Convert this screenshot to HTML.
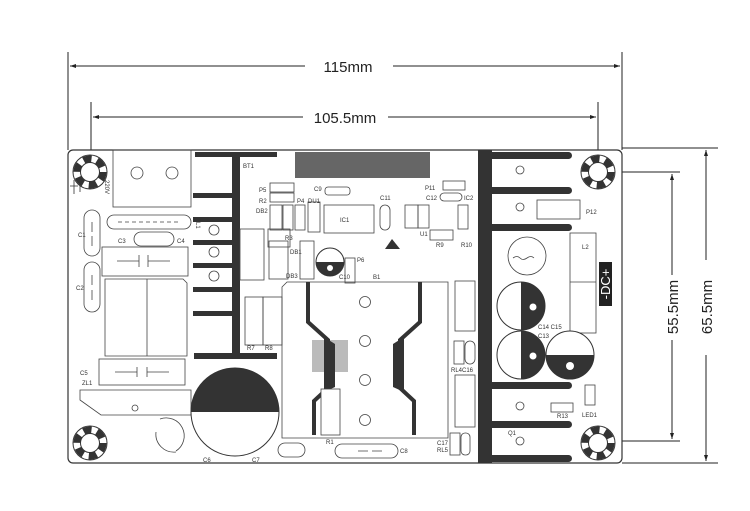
<!DOCTYPE html>
<html><head><meta charset="utf-8"><style>
html,body{margin:0;padding:0;background:#fff;}
svg{display:block;font-family:"Liberation Sans",sans-serif;}
.t{font-size:6px;fill:#333;}
</style></head><body>
<svg width="750" height="511" viewBox="0 0 750 511" xmlns="http://www.w3.org/2000/svg">
<defs>
<g id="hole">
<circle r="17" fill="#fff" stroke="#333" stroke-width="1"/>
<circle r="13" fill="none" stroke="#333" stroke-width="7" stroke-dasharray="8 5.6"/>
<circle r="9.5" fill="#fff" stroke="#333" stroke-width="1"/>
</g>
</defs>
<g stroke="#222" stroke-width="1" fill="none">
<line x1="68" y1="52" x2="68" y2="150"/>
<line x1="622" y1="52" x2="622" y2="150"/>
<line x1="70" y1="66" x2="305" y2="66"/>
<line x1="393" y1="66" x2="620" y2="66"/>
<line x1="91" y1="102" x2="91" y2="172"/>
<line x1="598" y1="102" x2="598" y2="172"/>
<line x1="93" y1="117" x2="303" y2="117"/>
<line x1="388" y1="117" x2="596" y2="117"/>
<line x1="598" y1="172" x2="680" y2="172"/>
<line x1="598" y1="441" x2="680" y2="441"/>
<line x1="672" y1="174" x2="672" y2="275"/>
<line x1="672" y1="340" x2="672" y2="439"/>
<line x1="622" y1="148" x2="718" y2="148"/>
<line x1="622" y1="463" x2="718" y2="463"/>
<line x1="706" y1="150" x2="706" y2="260"/>
<line x1="706" y1="355" x2="706" y2="461"/>
</g>
<g fill="#222">
<path d="M70 66 l6 -2 v4z"/><path d="M620 66 l-6 -2 v4z"/>
<path d="M93 117 l6 -2 v4z"/><path d="M596 117 l-6 -2 v4z"/>
<path d="M672 174 l-2 6 h4z"/><path d="M672 439 l-2 -6 h4z"/>
<path d="M706 150 l-2 6 h4z"/><path d="M706 461 l-2 -6 h4z"/>
</g>
<text x="348" y="72" font-size="15" text-anchor="middle" fill="#222">115mm</text>
<text x="345" y="123" font-size="15" text-anchor="middle" fill="#222">105.5mm</text>
<text transform="translate(678,307) rotate(-90)" font-size="15" text-anchor="middle" fill="#222">55.5mm</text>
<text transform="translate(712,307) rotate(-90)" font-size="15" text-anchor="middle" fill="#222">65.5mm</text>

<rect x="68" y="150" width="554" height="313" rx="5" fill="#fff" stroke="#333" stroke-width="1.2"/>

<g fill="#333">
<rect x="232" y="152" width="8" height="207"/>
<rect x="195" y="152" width="82" height="5"/>
<rect x="193" y="193" width="40" height="5"/>
<rect x="193" y="217" width="40" height="5"/>
<rect x="193" y="240" width="40" height="5"/>
<rect x="193" y="263" width="40" height="5"/>
<rect x="193" y="287" width="40" height="5"/>
<rect x="193" y="311" width="40" height="5"/>
<rect x="194" y="353" width="83" height="6"/>
</g>
<g fill="none" stroke="#444" stroke-width="0.8">
<circle cx="214" cy="230" r="5"/><circle cx="214" cy="252" r="5"/><circle cx="214" cy="276" r="5"/>
<rect x="240" y="229" width="24" height="51"/>
<rect x="113" y="150" width="78" height="57"/>
<circle cx="137" cy="173" r="6"/><circle cx="172" cy="173" r="6"/>
<path d="M114 215 h70 a6 6 0 0 1 0 14 h-70 a6 6 0 0 1 0 -14z"/>
<path d="M118 222 h60" stroke-dasharray="4 3"/>
<rect x="134" y="232" width="40" height="14" rx="7"/>
<rect x="102" y="247" width="86" height="29"/>
<path d="M117 261 h22 M139 255 v12 M148 255 v12 M148 261 h22"/>
<rect x="84" y="210" width="16" height="46" rx="8"/>
<rect x="84" y="262" width="16" height="50" rx="8"/>
<path d="M92 222 v10 M92 236 v10 M92 275 v10 M92 290 v10"/>
<path d="M105 279 h78 l4 4 v73 h-82z"/>
<path d="M147 279 v77"/>
<rect x="99" y="359" width="86" height="26"/>
<path d="M115 372 h22 M137 367 v10 M147 367 v10 M147 372 h22"/>
<path d="M80 390 h111 v25 h-90 l-21 -15z"/>
<circle cx="135" cy="408" r="3"/>
<path d="M160 419 a18 18 0 0 1 16 32"/>
<path d="M156 432 a18 18 0 0 0 20 20"/>
<rect x="268" y="229" width="22" height="18"/>
<rect x="269" y="241" width="19" height="38"/>
<rect x="245" y="297" width="18" height="48"/>
<rect x="263" y="297" width="19" height="48"/>
<rect x="270" y="183" width="24" height="9"/>
<rect x="270" y="193" width="24" height="9"/>
<rect x="270" y="205" width="12" height="25"/>
<rect x="283" y="205" width="10" height="25"/>
<rect x="295" y="205" width="10" height="25"/>
<rect x="308" y="202" width="12" height="30"/>
<rect x="300" y="241" width="14" height="38"/>
<rect x="325" y="187" width="25" height="8" rx="3"/>
<rect x="324" y="205" width="50" height="28"/>
<rect x="380" y="205" width="10" height="25" rx="5"/>
<rect x="405" y="205" width="13" height="23"/>
<rect x="418" y="205" width="11" height="23"/>
<rect x="443" y="181" width="22" height="9"/>
<rect x="440" y="193" width="22" height="8" rx="4"/>
<rect x="458" y="205" width="10" height="24"/>
<rect x="430" y="230" width="23" height="10"/>
<rect x="345" y="258" width="10" height="25"/>
<rect x="455" y="281" width="20" height="50"/>
<rect x="454" y="341" width="10" height="23"/>
<rect x="465" y="341" width="10" height="23" rx="5"/>
<rect x="455" y="375" width="20" height="52"/>
<rect x="450" y="433" width="10" height="22"/>
<rect x="461" y="433" width="9" height="22" rx="4"/>
<rect x="278" y="443" width="27" height="14" rx="7"/>
<rect x="335" y="444" width="63" height="14" rx="7"/>
<path d="M358 451 h10 M372 451 h10"/>
</g>
<rect x="295" y="152" width="135" height="26" fill="#666"/>
<path d="M385 249 l7 -10 l8 10z" fill="#333"/>
<circle cx="330" cy="262" r="14" fill="#fff" stroke="#333"/>
<path d="M316 262 a14 14 0 0 0 28 0z" fill="#333"/>
<circle cx="330" cy="268" r="3" fill="#fff"/>
<circle cx="235" cy="412" r="44" fill="#fff" stroke="#333"/>
<path d="M191 412 a44 44 0 0 1 88 0z" fill="#333"/>

<path d="M287 282 h161 v156 h-166 v-151z" fill="none" stroke="#444" stroke-width="0.8"/>
<rect x="312" y="340" width="36" height="32" fill="#bbb"/>
<g fill="none" stroke="#333" stroke-width="4">
<path d="M308 282 v40 l20 18 v48 l-14 13 v34"/>
<path d="M420 282 v40 l-20 18 v48 l14 13 v34"/>
</g>
<path d="M324 337 l11 7 v43 l-11 5z" fill="#333"/>
<path d="M404 337 l-11 7 v43 l11 5z" fill="#333"/>
<g fill="none" stroke="#444" stroke-width="0.8">
<circle cx="365" cy="302" r="5.5"/><circle cx="365" cy="341" r="5.5"/>
<circle cx="365" cy="380" r="5.5"/><circle cx="365" cy="420" r="5.5"/>
<rect x="321" y="389" width="19" height="46" fill="#fff"/>
</g>

<g fill="#333">
<rect x="478" y="150" width="14" height="313"/>
<rect x="478" y="152" width="94" height="7" rx="3.5"/>
<rect x="478" y="187" width="94" height="7" rx="3.5"/>
<rect x="478" y="224" width="94" height="7" rx="3.5"/>
<rect x="478" y="382" width="94" height="7" rx="3.5"/>
<rect x="478" y="421" width="94" height="7" rx="3.5"/>
<rect x="478" y="455" width="94" height="7" rx="3.5"/>
</g>
<g fill="none" stroke="#444" stroke-width="0.8">
<circle cx="520" cy="170" r="4"/><circle cx="520" cy="207" r="4"/>
<circle cx="520" cy="406" r="4"/><circle cx="520" cy="441" r="4"/>
<rect x="537" y="200" width="43" height="19"/>
<circle cx="527" cy="256" r="19"/>
<path d="M513 258 q4 -3 7 0 t7 0 t7 0"/>
<rect x="570" y="233" width="26" height="100"/>
<path d="M570 282 h26"/>
<rect x="551" y="403" width="22" height="9"/>
<rect x="585" y="385" width="10" height="20"/>
</g>
<circle cx="521" cy="306" r="24" fill="#fff" stroke="#333"/>
<path d="M521 282 a24 24 0 0 1 0 48z" fill="#333"/>
<circle cx="533" cy="307" r="3.5" fill="#fff"/>
<circle cx="521" cy="355" r="24" fill="#fff" stroke="#333"/>
<path d="M521 331 a24 24 0 0 1 0 48z" fill="#333"/>
<circle cx="533" cy="356" r="3.5" fill="#fff"/>
<circle cx="570" cy="355" r="24" fill="#fff" stroke="#333"/>
<path d="M546 355 a24 24 0 0 0 48 0z" fill="#333"/>
<circle cx="570" cy="366" r="4" fill="#fff"/>
<rect x="599" y="262" width="13" height="44" fill="#222"/>
<text transform="translate(610,284) rotate(-90)" font-size="13" text-anchor="middle" fill="#fff">-DC+</text>

<use href="#hole" x="90" y="172"/>
<use href="#hole" x="598" y="172"/>
<use href="#hole" x="90" y="443"/>
<use href="#hole" x="598" y="443"/>

<g class="t">
<text x="243" y="168">BT1</text><text x="259" y="192">P5</text><text x="259" y="203">R2</text>
<text x="256" y="213">DB2</text><text x="297" y="203">P4</text><text x="308" y="203">DU1</text>
<text x="285" y="240">R3</text><text x="290" y="254">DB1</text><text x="286" y="278">DB3</text>
<text x="314" y="191">C9</text><text x="340" y="222">IC1</text><text x="380" y="200">C11</text>
<text x="425" y="190">P11</text><text x="426" y="200">C12</text><text x="464" y="200">IC2</text>
<text x="420" y="236">U1</text><text x="436" y="247">R9</text><text x="461" y="247">R10</text>
<text x="357" y="262">P6</text><text x="339" y="279">C10</text><text x="373" y="279">B1</text>
<text x="247" y="350">R7</text><text x="265" y="350">R8</text>
<text x="78" y="237">C1</text><text x="76" y="290">C2</text><text x="118" y="243">C3</text><text x="177" y="243">C4</text>
<text x="80" y="375">C5</text><text x="82" y="385">ZL1</text><text x="203" y="462">C6</text><text x="252" y="462">C7</text>
<text x="400" y="453">C8</text><text x="326" y="444">R1</text>
<text x="451" y="372">RL4C16</text><text x="437" y="445">C17</text><text x="437" y="452">RL5</text>
<text x="582" y="249">L2</text><text x="538" y="329">C14 C15</text><text x="538" y="338">C13</text>
<text x="586" y="214">P12</text><text x="557" y="418">R13</text><text x="582" y="417">LED1</text>
<text x="508" y="435">Q1</text>
</g>
<text transform="translate(105,180) rotate(90)" class="t">220V</text>
<text transform="translate(196,218) rotate(90)" class="t">PL1</text>
<path d="M70 186 h8 M74 180 v14 M80 182 v10" stroke="#333" fill="none" stroke-width="0.8"/>
</svg>
</body></html>
